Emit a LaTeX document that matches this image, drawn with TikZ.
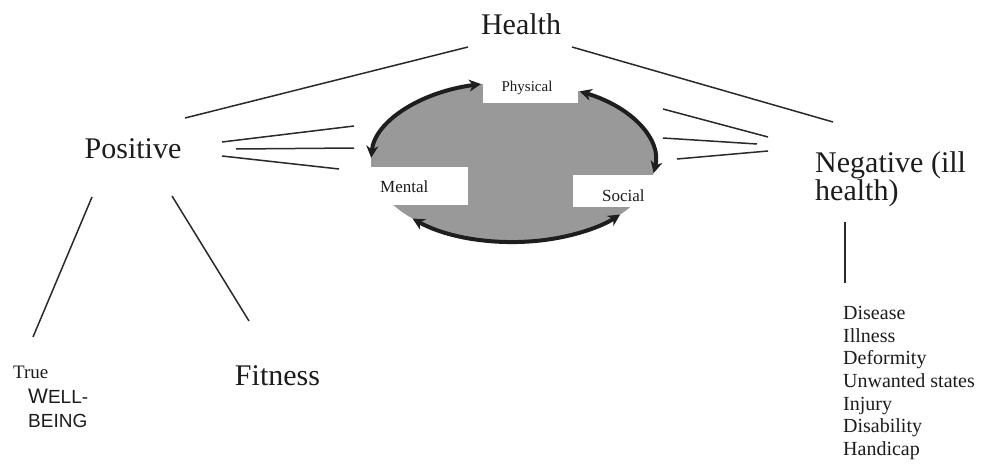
\documentclass[tikz,border=0pt]{standalone}
\usepackage{fontspec}
\setmainfont{Liberation Serif}
\newfontfamily\wbsans{Liberation Sans}
\usetikzlibrary{arrows.meta,calc}
\definecolor{txt}{HTML}{1C1C1C}
\definecolor{lin}{HTML}{2A2A2A}
\definecolor{cyccol}{HTML}{1E1E1E}
\definecolor{ellgrey}{HTML}{999999}
\begin{document}
\begin{tikzpicture}[x=1pt,y=-1pt,
  lbl/.style={inner sep=0pt, text=txt},
  big/.style={lbl, font=\fontsize{30}{34}\selectfont},
  lst/.style={lbl, anchor=base west, font=\fontsize{20}{23}\selectfont},
  small/.style={lbl, font=\fontsize{17}{20}\selectfont},
  conn/.style={draw=lin, line width=1.5pt},
  cyc/.style={draw=cyccol, line width=4pt, {Stealth[length=12pt,width=12pt]}-{Stealth[length=12pt,width=12pt]}},
  wbox/.style={fill=white, draw=none}]
\useasboundingbox (0,0) rectangle (981,468);
\fill[white] (0,0) rectangle (981,468);

% main labels
\node[big, anchor=base] (health) at (521,35) {Health};
\node[big, anchor=base] (positive) at (133,158) {Positive};
\node[big, anchor=base west] (neg1) at (815,172) {Negative (ill};
\node[big, anchor=base west] (neg2) at (815,200) {health)};
\node[big, anchor=base] (fitness) at (277.5,385) {Fitness};
\node[lbl, anchor=base west, font=\fontsize{19}{22}\selectfont] (true) at (13,378) {True};
\node[lbl, anchor=base west, font=\wbsans\fontsize{19}{22}\selectfont] (well) at (28,403) {{\fontsize{21}{22}\selectfont W}ELL-};
\node[lbl, anchor=base west, font=\wbsans\fontsize{19}{22}\selectfont] (being) at (28,427) {BEING};

% negative list
\node[lst] (l1) at (843,319) {Disease};
\node[lst] (l2) at (843,342) {Illness};
\node[lst] (l3) at (843,364.5) {Deformity};
\node[lst] (l4) at (843,387) {Unwanted states};
\node[lst] (l5) at (843,410) {Injury};
\node[lst] (l6) at (843,432.5) {Disability};
\node[lst] (l7) at (843,455) {Handicap};

% connector end points
\coordinate (hL) at (468,47);
\coordinate (hR) at (572,47);
\coordinate (pT) at (185,118);
\coordinate (nT) at (833,122);
\coordinate (pA1) at (222,142); \coordinate (pB1) at (354,126);
\coordinate (pA2) at (236,149); \coordinate (pB2) at (354,148);
\coordinate (pA3) at (222,156); \coordinate (pB3) at (339,169);
\coordinate (nA1) at (663,109); \coordinate (nB1) at (768,137);
\coordinate (nA2) at (663,138); \coordinate (nB2) at (757,144);
\coordinate (nA3) at (677,159); \coordinate (nB3) at (768,151);
\coordinate (pD1) at (92,197); \coordinate (tw) at (33,337);
\coordinate (pD2) at (172,196); \coordinate (ft) at (249,321);
\coordinate (nD) at (845,222); \coordinate (ls) at (845,283);

\draw[conn] (hL) -- (pT);
\draw[conn] (hR) -- (nT);
\draw[conn] (pA1) -- (pB1);
\draw[conn] (pA2) -- (pB2);
\draw[conn] (pA3) -- (pB3);
\draw[conn] (nA1) -- (nB1);
\draw[conn] (nA2) -- (nB2);
\draw[conn] (nA3) -- (nB3);
\draw[conn] (pD1) -- (tw);
\draw[conn] (pD2) -- (ft);
\draw[conn] (nD) -- (ls);

% central ellipse
\coordinate (ec) at (513,162);
\fill[ellgrey] (ec) ellipse[x radius=142, y radius=80];
\fill[wbox] (483,78) rectangle (578,103);
\fill[wbox] (370,167) rectangle (468,205);
\fill[wbox] (573,175) rectangle (657,207);
\draw[cyc] ($(ec)+(257:142 and 80)$) arc[start angle=257, end angle=183, x radius=142, y radius=80];
\draw[cyc] ($(ec)+(298:142 and 80)$) arc[start angle=298, end angle=368, x radius=142, y radius=80];
\draw[cyc] ($(ec)+(135:142 and 80)$) arc[start angle=135, end angle=41, x radius=142, y radius=80];

\node[lbl, font=\fontsize{15}{18}\selectfont] (physical) at (527,88) {Physical};
\node[small, anchor=west] (mental) at (380,187) {Mental};
\node[small, anchor=west] (social) at (602,196) {Social};
\end{tikzpicture}
\end{document}
